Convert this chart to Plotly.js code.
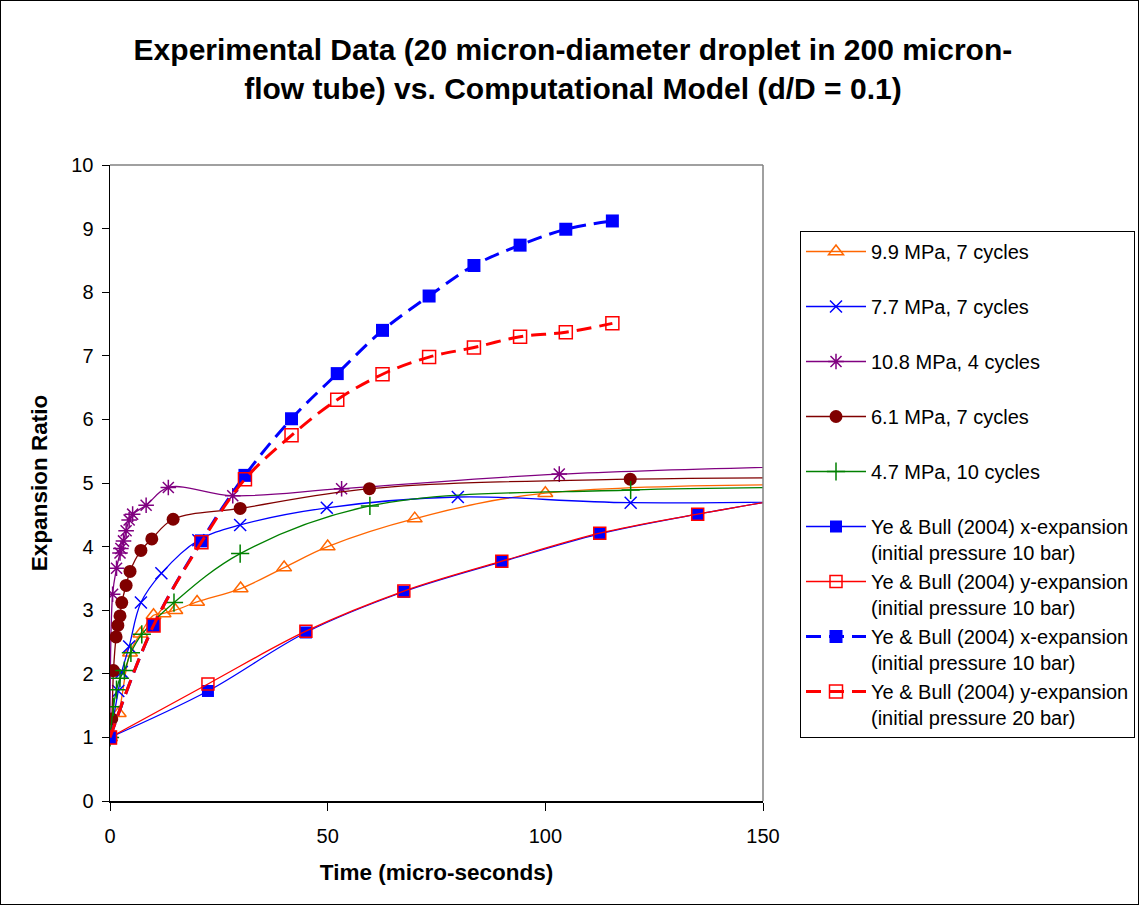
<!DOCTYPE html>
<html>
<head>
<meta charset="utf-8">
<script src="https://cdn.plot.ly/plotly-3.0.1.min.js"></script>
<style>
  html, body { margin: 0; padding: 0; background: #fff; }
  #wrap { position: relative; width: 1139px; height: 905px; }
  #plot { width: 1139px; height: 905px; }
  #frame { position: absolute; left: 0; top: 0; width: 1137px; height: 903px; border: 1px solid #000; pointer-events: none; }
</style>
</head>
<body>
<div id="wrap"><div id="plot"></div><div id="frame"></div></div>
<script>
// ---- data ----
const seriesNames = [
  '9.9 MPa, 7 cycles',
  '7.7 MPa, 7 cycles',
  '10.8 MPa, 4 cycles',
  '6.1 MPa, 7 cycles',
  '4.7 MPa, 10 cycles',
  'Ye & Bull (2004) x-expansion<br>(initial pressure 10 bar)',
  'Ye & Bull (2004) y-expansion<br>(initial pressure 10 bar)',
  'Ye & Bull (2004) x-expansion<br>(initial pressure 10 bar)',
  'Ye & Bull (2004) y-expansion<br>(initial pressure 20 bar)'
];

const time99 = [0, 2.0, 4.6, 7.0, 10, 12.3, 15, 20, 30, 40, 50, 70, 100, 200];
const ratio99 = [1, 1.38, 2.33, 2.63, 2.92, 2.95, 3.0, 3.13, 3.34, 3.67, 4.0, 4.44, 4.84, 4.97];

const time77 = [0, 1.9, 2.7, 4.4, 7.1, 11.8, 20.3, 29.9, 49.8, 79.9, 119.6, 200];
const ratio77 = [1, 1.73, 2.03, 2.43, 3.12, 3.58, 4.10, 4.34, 4.61, 4.78, 4.69, 4.76];

const time108 = [0, 0.6, 1.5, 2.3, 2.5, 3.1, 3.7, 4.4, 5.2, 8.3, 13.4, 28.2, 53.2, 103.2, 203];
const ratio108 = [1, 3.25, 3.66, 3.90, 3.97, 4.09, 4.25, 4.42, 4.51, 4.65, 4.93, 4.80, 4.91, 5.14, 5.33];

const time61 = [0, 0.4, 0.8, 1.4, 1.8, 2.3, 2.7, 3.7, 4.6, 7.1, 9.6, 14.5, 29.9, 59.6, 119.5, 240];
const ratio61 = [1, 1.29, 2.05, 2.58, 2.76, 2.91, 3.12, 3.39, 3.61, 3.94, 4.12, 4.43, 4.60, 4.91, 5.06, 5.07];

const time47 = [0, 0.8, 1.5, 2.3, 3.3, 4.8, 7.3, 14.7, 29.9, 59.7, 119.6, 239];
const ratio47 = [1, 1.48, 1.75, 1.93, 2.05, 2.33, 2.62, 3.12, 3.89, 4.64, 4.89, 4.92];

const timeYe10 = [0, 22.5, 45, 67.5, 90, 112.5, 135, 157.5];
const xExpYe10 = [1, 1.73, 2.65, 3.29, 3.76, 4.20, 4.51, 4.78];
const yExpYe10 = [1, 1.84, 2.67, 3.30, 3.77, 4.21, 4.51, 4.78];

const timeYe20 = [0, 10, 21, 31, 41.7, 52.2, 62.6, 73.3, 83.6, 94.2, 104.7, 115.4];
const xExpYe20 = [1, 2.76, 4.09, 5.12, 6.01, 6.72, 7.40, 7.94, 8.42, 8.74, 8.99, 9.12];
const yExpYe20 = [1, 2.76, 4.07, 5.06, 5.75, 6.31, 6.71, 6.98, 7.13, 7.30, 7.37, 7.51];

const xTicks = [0, 50, 100, 150];
const yTicks = [0, 1, 2, 3, 4, 5, 6, 7, 8, 9, 10];

// ---- styles ----
const FONT = 'Liberation Sans, Arial, Helvetica, sans-serif';
const pad = '<br>\u00a0';

function exp(name, x, y, color, symbol, size) {
  return {
    type: 'scatter', mode: 'lines+markers', name: name, x: x, y: y,
    line: { color: color, width: 1.3, shape: 'spline', smoothing: 1 },
    marker: { symbol: symbol, size: size, color: color, line: { color: color, width: 1.5 } }
  };
}

const traces = [
  exp(seriesNames[0] + pad, time99, ratio99, '#FF6600', 'triangle-up-open', 13),
  exp(seriesNames[1] + pad, time77, ratio77, '#0000FF', 'x-thin-open', 12),
  exp(seriesNames[2] + pad, time108, ratio108, '#800080', 'asterisk-open', 13),
  {
    type: 'scatter', mode: 'lines+markers', name: seriesNames[3] + pad, x: time61, y: ratio61,
    line: { color: '#800000', width: 1.3, shape: 'spline', smoothing: 1 },
    marker: { symbol: 'circle', size: 13, color: '#800000', line: { width: 0 } }
  },
  exp(seriesNames[4] + pad, time47, ratio47, '#008000', 'cross-thin-open', 13),
  {
    type: 'scatter', mode: 'lines+markers', name: seriesNames[5], x: timeYe10, y: xExpYe10,
    line: { color: '#0000FF', width: 1.3, shape: 'spline', smoothing: 1 },
    marker: { symbol: 'square', size: 12, color: '#0000FF', line: { width: 0 } }
  },
  {
    type: 'scatter', mode: 'lines+markers', name: seriesNames[6], x: timeYe10, y: yExpYe10,
    line: { color: '#FF0000', width: 1.3, shape: 'spline', smoothing: 1 },
    marker: { symbol: 'square-open', size: 12, color: '#FF0000', line: { color: '#FF0000', width: 1.5 } }
  },
  {
    type: 'scatter', mode: 'lines+markers', name: seriesNames[7], x: timeYe20, y: xExpYe20,
    line: { color: '#0000FF', width: 3, dash: '15px,8px', shape: 'spline', smoothing: 1 },
    marker: { symbol: 'square', size: 13, color: '#0000FF', line: { width: 0 } }
  },
  {
    type: 'scatter', mode: 'lines+markers', name: seriesNames[8], x: timeYe20, y: yExpYe20,
    line: { color: '#FF0000', width: 3, dash: '15px,8px', shape: 'spline', smoothing: 1 },
    marker: { symbol: 'square-open', size: 13, color: '#FF0000', line: { color: '#FF0000', width: 1.5 } }
  }
];

const layout = {
  width: 1139, height: 905,
  margin: { l: 110, r: 376, t: 165, b: 104, pad: 0 },
  paper_bgcolor: '#ffffff', plot_bgcolor: '#ffffff',
  font: { family: FONT, color: '#000000', size: 20 },
  showlegend: true,
  title: {
    text: '<b>Experimental Data (20 micron-diameter droplet in 200 micron-<br>flow tube) vs. Computational Model (d/D = 0.1)</b>',
    font: { family: FONT, size: 30, color: '#000' },
    x: 0.503, xref: 'container', xanchor: 'center',
    y: 0.934, yref: 'container', yanchor: 'middle'
  },
  xaxis: {
    range: [0, 150], tickvals: xTicks, ticktext: xTicks.map(String),
    ticks: 'outside', ticklen: 8, tickwidth: 1, tickcolor: '#000',
    showline: true, linecolor: '#000', linewidth: 1.5, mirror: false,
    showgrid: false, zeroline: false,
    tickfont: { family: FONT, size: 20, color: '#000' },
    ticklabelstandoff: 8,
    title: { text: '<b>Time (micro-seconds)</b>', font: { family: FONT, size: 22.5, color: '#000' }, standoff: 18 }
  },
  yaxis: {
    range: [0, 10], tickvals: yTicks, ticktext: yTicks.map(String),
    ticks: 'outside', ticklen: 7, tickwidth: 1, tickcolor: '#000',
    showline: true, linecolor: '#000', linewidth: 1.5, mirror: false,
    showgrid: false, zeroline: false,
    tickfont: { family: FONT, size: 20, color: '#000' },
    ticklabelstandoff: 4,
    title: { text: '<b>Expansion Ratio</b>', font: { family: FONT, size: 22.5, color: '#000' }, standoff: 17 }
  },
  legend: {
    x: 800 / 1139, xref: 'container', xanchor: 'left',
    y: 1 - 231 / 905, yref: 'container', yanchor: 'top',
    bgcolor: '#ffffff', bordercolor: '#000', borderwidth: 1,
    font: { family: FONT, size: 20, color: '#000' },
    valign: 'top', itemwidth: 60, tracegroupgap: 0,
    traceorder: 'normal', maxheight: 650
  },
  shapes: [
    { type: 'line', xref: 'paper', yref: 'paper', x0: 0, x1: 1, y0: 1, y1: 1, line: { color: '#808080', width: 1.5 } },
    { type: 'line', xref: 'paper', yref: 'paper', x0: 1, x1: 1, y0: 0, y1: 1, line: { color: '#808080', width: 1.5 } }
  ]
};

Plotly.newPlot('plot', traces, layout, { displayModeBar: false, staticPlot: true });
</script>
</body>
</html>
